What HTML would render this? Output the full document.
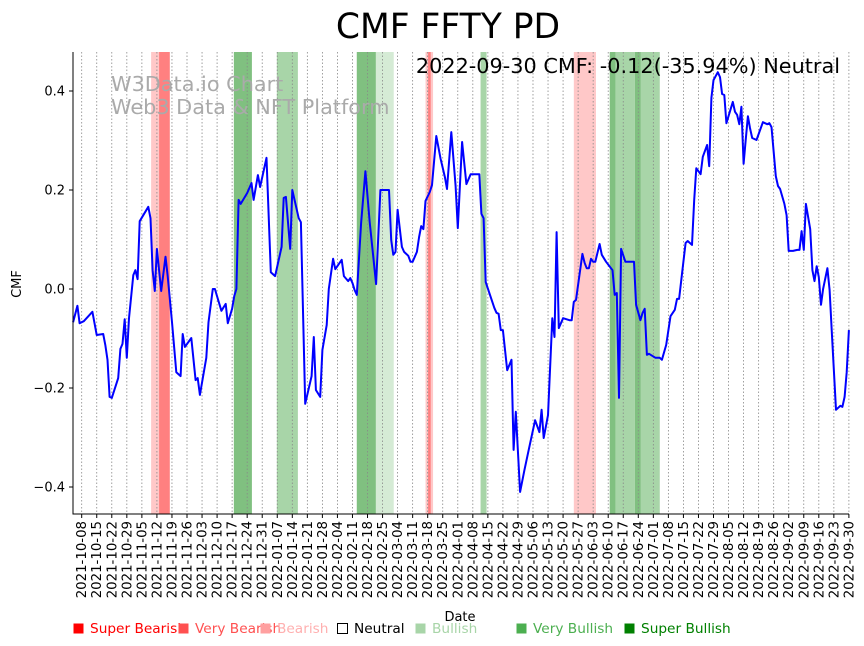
<!DOCTYPE html>
<html><head><meta charset="utf-8"><style>
body{margin:0;background:#fff}
svg{display:block;font-family:"DejaVu Sans","Liberation Sans",sans-serif}
</style></head><body>
<svg id="chart" width="864" height="646">
<text x="448" y="38" font-size="34.5" text-anchor="middle">CMF FFTY PD</text>
<g id="bands"></g>
<g id="grid"></g>
<g fill="#aaa" font-size="20.8">
<text x="111" y="91">W3Data.io Chart</text>
<text x="111" y="114">Web3 Data &amp; NFT Platform</text>
</g>
<g id="line"></g>
<text x="840" y="73" font-size="20.8" text-anchor="end">2022-09-30 CMF: -0.12(-35.94%) Neutral</text>
<g id="axes"></g>
<text x="460" y="621" font-size="13" text-anchor="middle">Date</text>
<text transform="translate(21,284) rotate(-90)" font-size="13" text-anchor="middle">CMF</text>
<g id="legend" font-size="13.7"></g>
</svg>
<script>
const days=[-4,-2,-1,1,5,7,10,11,12,13,14,17,18,19,20,21,22,24,25,26,27,31,32,33,34,35,37,39,40,42,44,46,47,48,51,53,54,55,58,59,61,62,65,67,68,70,71,72,73,74,77,79,80,82,83,86,88,90,93,94,95,97,98,101,102,104,107,108,109,111,112,114,115,117,118,121,122,124,125,126,127,128,130,132,134,137,139,143,144,145,146,147,149,150,152,153,154,156,157,158,159,160,162,163,165,167,169,170,172,174,175,177,179,181,185,186,187,188,192,193,194,195,196,198,200,201,202,204,206,208,211,213,214,215,217,219,220,221,222,224,227,228,229,230,233,234,235,236,237,238,239,241,242,244,247,248,249,250,251,253,255,257,258,260,261,262,263,264,267,269,270,272,274,276,277,278,280,281,282,283,284,285,286,288,289,291,292,293,294,296,297,298,299,300,303,304,305,306,307,308,309,310,311,312,314,317,319,320,321,323,324,325,327,328,329,331,333,334,335,336,337,339,340,341,342,343,344,345,347,348,349,351,353,354,355,356,357];
const cmf=[-0.067,-0.034,-0.069,-0.065,-0.046,-0.093,-0.091,-0.113,-0.143,-0.218,-0.22,-0.18,-0.121,-0.111,-0.061,-0.139,-0.059,0.028,0.038,0.02,0.137,0.166,0.143,0.038,-0.004,0.081,-0.004,0.065,0.026,-0.067,-0.168,-0.176,-0.091,-0.117,-0.099,-0.184,-0.18,-0.214,-0.139,-0.067,0,0,-0.044,-0.03,-0.069,-0.04,-0.014,0,0.18,0.172,0.194,0.214,0.18,0.23,0.206,0.265,0.034,0.026,0.085,0.184,0.186,0.081,0.2,0.143,0.135,-0.232,-0.176,-0.097,-0.204,-0.218,-0.123,-0.073,0,0.061,0.04,0.059,0.026,0.016,0.022,0.012,-0.002,-0.012,0.133,0.238,0.135,0.01,0.2,0.2,0.099,0.069,0.075,0.16,0.085,0.075,0.067,0.055,0.055,0.075,0.105,0.127,0.121,0.178,0.196,0.21,0.309,0.263,0.226,0.202,0.317,0.208,0.123,0.297,0.212,0.232,0.232,0.152,0.143,0.014,-0.038,-0.048,-0.05,-0.083,-0.083,-0.164,-0.143,-0.325,-0.248,-0.41,-0.366,-0.325,-0.265,-0.289,-0.244,-0.301,-0.255,-0.059,-0.097,0.115,-0.079,-0.059,-0.063,-0.063,-0.026,-0.022,0.071,0.053,0.042,0.042,0.061,0.055,0.055,0.091,0.069,0.055,0.038,-0.012,-0.008,-0.22,0.081,0.055,0.055,0.055,-0.032,-0.063,-0.048,-0.04,-0.133,-0.131,-0.139,-0.139,-0.143,-0.113,-0.055,-0.042,-0.02,-0.02,0.055,0.093,0.097,0.093,0.089,0.18,0.244,0.232,0.267,0.291,0.248,0.386,0.422,0.438,0.428,0.394,0.392,0.335,0.378,0.358,0.352,0.333,0.368,0.253,0.301,0.349,0.325,0.305,0.301,0.337,0.333,0.335,0.327,0.228,0.208,0.202,0.172,0.149,0.077,0.077,0.079,0.079,0.117,0.079,0.172,0.121,0.038,0.016,0.046,0.024,-0.032,0,0.042,-0.002,-0.083,-0.244,-0.236,-0.238,-0.218,-0.168,-0.083,-0.113];
const bandStart=[32.3,36,70.8,90.8,128,136.9,160,161.2,185.6,229,245.7,248.5,257.4,260.2];
const bandEnd=[36,41,79.2,100.6,136.9,145.2,163.5,162.4,188.4,239.3,248.5,257.4,260.2,269];
const bandType=['bearish','very-bearish','very-bullish','bullish','very-bullish','light-bullish','bearish','very-bearish','bullish','bearish','very-bullish','bullish','very-bullish','bullish'];
const yTicks=[0.4,0.2,0.0,-0.2,-0.4];
const yTickLabels=['0.4','0.2','0.0','\u22120.2','\u22120.4'];
const legendLabels=['Super Bearish','Very Bearish','Bearish','Neutral','Bullish','Very Bullish','Super Bullish'];

const NS='http://www.w3.org/2000/svg';
const L=73,R=849,T=52,B=514;
const x=d=>81.7+d*2.149;
const y=v=>289-v*495;
function mk(tag,attrs,parent){const e=document.createElementNS(NS,tag);for(const k in attrs)e.setAttribute(k,attrs[k]);parent.appendChild(e);return e;}
const bandColor={'bearish':'#ffc8c8','very-bearish':'#ff8080','very-bullish':'#80c080','bullish':'#a8d5a8','light-bullish':'#d5ebd5'};
const gB=document.getElementById('bands');
bandStart.forEach((s,i)=>{const r=mk('rect',{x:x(s),y:T,width:x(bandEnd[i])-x(s),height:B-T,fill:bandColor[bandType[i]]},gB);

});
const gG=document.getElementById('grid');const gA=document.getElementById('axes');
const base=new Date(Date.UTC(2021,9,8));
for(let w=0;w<=51;w++){const xx=x(w*7);
const gl=mk('line',{x1:xx,x2:xx,y1:T,y2:B,stroke:'#888','stroke-width':0.8,'stroke-dasharray':'1.5,2'},gG);


mk('line',{x1:xx,x2:xx,y1:B,y2:B+4,stroke:'#000'},gA);
const dt=new Date(base.getTime()+w*7*86400000);const lbl=dt.toISOString().slice(0,10);
const t=mk('text',{transform:`translate(${xx+4.5},${B+7}) rotate(-90)`,'text-anchor':'end','font-size':13.3},gA);t.textContent=lbl;

}
yTicks.forEach((v,i)=>{mk('line',{x1:L-4,x2:L,y1:y(v),y2:y(v),stroke:'#000'},gA);
const t=mk('text',{x:L-8,y:y(v)+4.5,'text-anchor':'end','font-size':13},gA);t.textContent=yTickLabels[i];

});
const ax=mk('path',{d:`M${L},${T}V${B}H${R}`,fill:'none',stroke:'#000','stroke-width':1},gA);


const gL=document.getElementById('line');
const p=mk('polyline',{points:days.map((d,i)=>x(d).toFixed(1)+','+y(cmf[i]).toFixed(1)).join(' '),fill:'none',stroke:'#0000ff','stroke-width':2,'stroke-linejoin':'round'},gL);


const legX=[73,178,260,337,415,516,624];
const legC=['#ff0000','#ff5050','#ffa0a0','#fff','#a8d5a8','#4caf50','#008000'];
const legT=['#ff0000','#ff5050','#ffb0b0','#000','#a8d5a8','#4caf50','#008000'];
const gLe=document.getElementById('legend');
legendLabels.forEach((l,i)=>{const g=mk('g',{},gLe);


mk('rect',{x:legX[i]+0.5,y:623.5,width:10,height:10,fill:legC[i],stroke:i==3?'#000':'none'},g);
const t=mk('text',{x:legX[i]+17,y:633,fill:legT[i]},g);t.textContent=l;});
</script>
</body></html>
